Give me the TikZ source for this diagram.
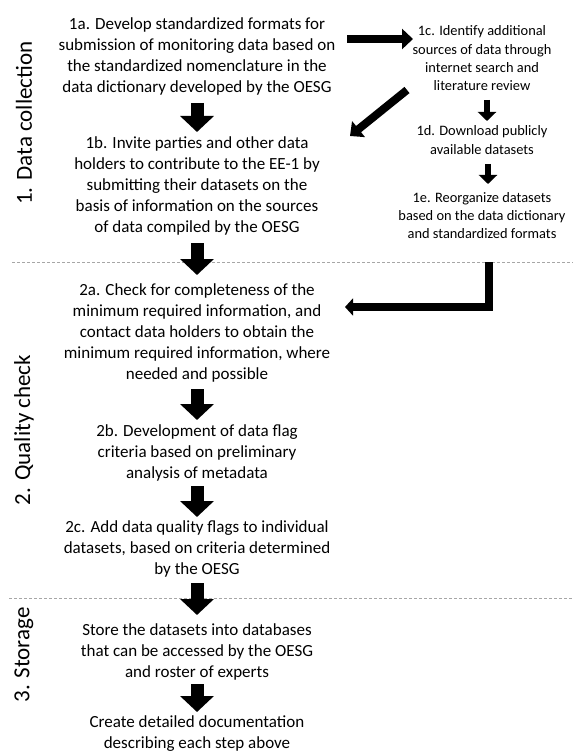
\documentclass[tikz,border=0pt]{standalone}
\usepackage{fontspec}
\setmainfont{Carlito}
\usetikzlibrary{arrows.meta}
\begin{document}
\begin{tikzpicture}[x=1pt,y=-1pt,
  main/.style={anchor=base, inner sep=0pt, font=\fontsize{17}{21}\selectfont},
  side/.style={anchor=center, inner sep=0pt, rotate=90, font=\fontsize{23}{26}\selectfont},
  rcol/.style={anchor=base, inner sep=0pt, font=\fontsize{14.4}{18.2}\selectfont},
  bigarr/.style={line width=13pt, -{Triangle[width=33pt,length=16pt]}},
  medarr/.style={line width=8pt, -{Triangle[width=20pt,length=11pt]}},
  smallarr/.style={line width=6.5pt, -{Triangle[width=18pt,length=9pt]}},
  larr/.style={line width=8.5pt, line join=miter, -{Triangle[width=17pt,length=8pt]}},
  divider/.style={gray!70, line width=0.7pt, dash pattern=on 3pt off 2pt}]
\useasboundingbox (0,0) rectangle (573,754);

% dividers
\draw[divider] (12,262) -- (573,262);
\draw[divider] (9,598) -- (573,598);

% side labels
\node[side] (s1) at (24,123) {1. Data collection};
\node[side] (s2) at (24,430) {2. Quality check};
\node[side] (s3) at (24,655) {3. Storage};

% main column
\node[main] (n1a) at (197,30) {\parbox[t]{300pt}{\centering 1a. Develop standardized formats for\\submission of monitoring data based on\\the standardized nomenclature in the\\data dictionary developed by the OESG}};
\node[main] (n1b) at (197,149) {\parbox[t]{300pt}{\centering 1b. Invite parties and other data\\holders to contribute to the EE-1 by\\submitting their datasets on the\\basis of information on the sources\\of data compiled by the OESG}};
\node[main] (n2a) at (197,295) {\parbox[t]{300pt}{\centering 2a. Check for completeness of the\\minimum required information, and\\contact data holders to obtain the\\minimum required information, where\\needed and possible}};
\node[main] (n2b) at (197,436) {\parbox[t]{300pt}{\centering 2b. Development of data flag\\criteria based on preliminary\\analysis of metadata}};
\node[main] (n2c) at (197,532) {\parbox[t]{300pt}{\centering 2c. Add data quality flags to individual\\datasets, based on criteria determined\\by the OESG}};
\node[main] (n3a) at (197,635) {\parbox[t]{300pt}{\centering Store the datasets into databases\\that can be accessed by the OESG\\and roster of experts}};
\node[main] (n3b) at (197,727) {\parbox[t]{300pt}{\centering Create detailed documentation\\describing each step above}};

% right column
\node[rcol] (n1c) at (482,36) {\parbox[t]{170pt}{\centering 1c. Identify additional\\sources of data through\\internet search and\\literature review}};
\node[rcol] (n1d) at (482,136) {\parbox[t]{170pt}{\centering 1d. Download publicly\\available datasets}};
\node[rcol] (n1e) at (482,202) {\parbox[t]{170pt}{\centering 1e. Reorganize datasets\\based on the data dictionary\\and standardized formats}};

% connector end points
\coordinate (a1s) at (197,103); \coordinate (a1e) at (197,132);
\coordinate (a2s) at (197,243); \coordinate (a2e) at (197,275);
\coordinate (a3s) at (197,389); \coordinate (a3e) at (197,420);
\coordinate (a4s) at (197,486); \coordinate (a4e) at (197,517);
\coordinate (a5s) at (197,583); \coordinate (a5e) at (197,615);
\coordinate (a6s) at (197,684); \coordinate (a6e) at (197,712);
\coordinate (h1s) at (347,39); \coordinate (h1e) at (413,39);
\coordinate (d1s) at (407,90); \coordinate (d1e) at (350,136);
\coordinate (c1s) at (487,100); \coordinate (c1e) at (487,121);
\coordinate (c2s) at (488,164); \coordinate (c2e) at (488,184);
\coordinate (l1s) at (489,262); \coordinate (l1c) at (489,307); \coordinate (l1e) at (345,307);

% connectors
\draw[bigarr] (a1s) -- (a1e);
\draw[bigarr] (a2s) -- (a2e);
\draw[bigarr] (a3s) -- (a3e);
\draw[bigarr] (a4s) -- (a4e);
\draw[bigarr] (a5s) -- (a5e);
\draw[bigarr] (a6s) -- (a6e);
\draw[medarr] (h1s) -- (h1e);
\draw[medarr] (d1s) -- (d1e);
\draw[smallarr] (c1s) -- (c1e);
\draw[smallarr] (c2s) -- (c2e);
\draw[larr] (l1s) -- (l1c) -- (l1e);
\end{tikzpicture}
\end{document}
